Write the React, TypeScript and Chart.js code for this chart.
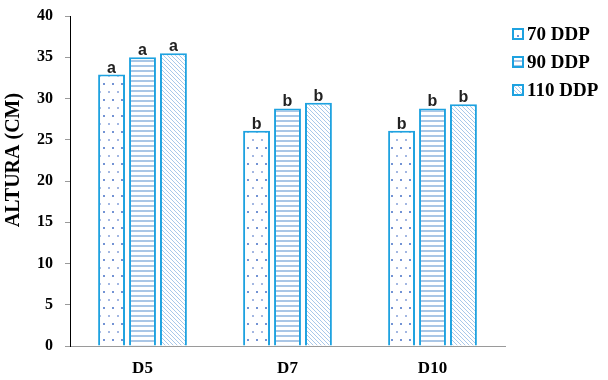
import React, { useEffect, useRef } from "react";
import { Chart, registerables } from "chart.js";

Chart.register(...registerables);

const categories = ["D5", "D7", "D10"];
const seriesNames = ["70 DDP", "90 DDP", "110 DDP"];
const values70 = [32.9, 26.1, 26.1];
const values90 = [35.0, 28.8, 28.8];
const values110 = [35.5, 29.5, 29.3];
const letters70 = ["a", "b", "b"];
const letters90 = ["a", "b", "b"];
const letters110 = ["a", "b", "b"];
const yTicks = [0, 5, 10, 15, 20, 25, 30, 35, 40];
const yTitle = "ALTURA (CM)";

const BORDER = "#1ea2e0";
const SERIF = "'Liberation Serif', 'Times New Roman', serif";

function makePattern(kind: string): CanvasPattern | string {
  const c = document.createElement("canvas");
  const ctx = c.getContext("2d");
  if (!ctx) return "#fff";
  if (kind === "dots") {
    c.width = 9; c.height = 16;
    ctx.fillStyle = "#ffffff";
    ctx.fillRect(0, 0, 9, 16);
    ctx.fillStyle = "#7393d4";
    ctx.fillRect(4, 3, 2, 2);
    ctx.fillStyle = "#a3b7e2";
    ctx.fillRect(0, 11, 2, 2);
  } else if (kind === "hlines") {
    c.width = 4; c.height = 5;
    ctx.fillStyle = "#ffffff";
    ctx.fillRect(0, 0, 4, 5);
    ctx.fillStyle = "#a9c6e6";
    ctx.fillRect(0, 0, 4, 2);
  } else {
    c.width = 4; c.height = 4;
    ctx.fillStyle = "#ffffff";
    ctx.fillRect(0, 0, 4, 4);
    ctx.fillStyle = "#a8c8ea";
    for (let i = 0; i < 4; i++) ctx.fillRect(i, i, 1, 1);
  }
  const p = ctx.createPattern(c, "repeat");
  return p || "#fff";
}

export default function App() {
  const ref = useRef<HTMLCanvasElement>(null);
  useEffect(() => {
    if (!ref.current) return;
    const patterns = [makePattern("dots"), makePattern("hlines"), makePattern("diag")];
    const letters = [letters70, letters90, letters110];

    const labelPlugin = {
      id: "letters",
      afterDatasetsDraw(chart: any) {
        const ctx = chart.ctx;
        ctx.save();
        ctx.font = "bold 16px 'Liberation Sans', Arial, sans-serif";
        ctx.fillStyle = "#222";
        ctx.textAlign = "center";
        ctx.textBaseline = "alphabetic";
        chart.data.datasets.forEach((ds: any, di: number) => {
          const meta = chart.getDatasetMeta(di);
          meta.data.forEach((bar: any, i: number) => {
            ctx.fillText(letters[di][i], bar.x, bar.y - 2);
          });
        });
        ctx.restore();
      },
    };

    const extrasPlugin = {
      id: "extras",
      afterDraw(chart: any) {
        const ctx = chart.ctx;
        const area = chart.chartArea;
        // small extension of the x-axis line to the left of the y-axis
        ctx.save();
        ctx.strokeStyle = "#9a9a9a";
        ctx.lineWidth = 1;
        ctx.beginPath();
        ctx.moveTo(area.left - 5, Math.round(area.bottom) + 0.5);
        ctx.lineTo(area.left, Math.round(area.bottom) + 0.5);
        ctx.stroke();
        ctx.restore();

        ctx.save();
        ctx.translate(14, 160);
        ctx.rotate(-Math.PI / 2);
        ctx.font = `bold 20px ${SERIF}`;
        ctx.fillStyle = "#000";
        ctx.textAlign = "center";
        ctx.textBaseline = "middle";
        ctx.fillText(yTitle, 0, 0);
        ctx.restore();

        ctx.save();
        ctx.font = `bold 19px ${SERIF}`;
        ctx.textBaseline = "middle";
        ctx.textAlign = "left";
        seriesNames.forEach((name, i) => {
          const y = 34 + i * 28;
          const bx = 513;
          ctx.fillStyle = patterns[i] as any;
          ctx.fillRect(bx, y - 5, 10, 10);
          ctx.strokeStyle = BORDER;
          ctx.lineWidth = 2;
          ctx.strokeRect(bx, y - 5, 10, 10);
          ctx.fillStyle = "#000";
          ctx.fillText(name, bx + 14, y + 1);
        });
        ctx.restore();
      },
    };

    const chart = new Chart(ref.current, {
      type: "bar",
      data: {
        labels: categories,
        datasets: [values70, values90, values110].map((v, i) => ({
          label: seriesNames[i],
          data: v,
          backgroundColor: patterns[i] as any,
          borderColor: BORDER,
          borderWidth: 2,
          borderSkipped: "bottom",
          categoryPercentage: 0.64,
          barPercentage: 0.87,
        })),
      },
      options: {
        animation: false,
        responsive: false,
        maintainAspectRatio: false,
        layout: { padding: { left: 0, right: 103, top: 16, bottom: 0 } },
        plugins: {
          legend: { display: false },
          tooltip: { enabled: false },
        },
        scales: {
          x: {
            grid: { display: false, drawTicks: false },
            border: { display: true, color: "#9a9a9a", width: 1 },
            ticks: {
              color: "#000",
              padding: 12,
              font: { family: SERIF, size: 17, weight: "bold" },
            },
            afterFit: (s: any) => { s.height = 34; s.paddingLeft = 0; s.paddingRight = 0; },
          },
          y: {
            min: 0,
            max: 40,
            afterBuildTicks: (s: any) => { s.ticks = yTicks.map((v) => ({ value: v })); },
            grid: { display: true, drawOnChartArea: false, drawTicks: true, tickLength: 5, color: "#9a9a9a" },
            border: { display: true, color: "#000", width: 1 },
            ticks: {
              color: "#000",
              padding: 12,
              font: { family: SERIF, size: 16, weight: "bold" },
            },
            title: { display: false },
            afterFit: (s: any) => { s.width = 70; s.paddingTop = 0; s.paddingBottom = 0; },
          },
        },
      },
      plugins: [labelPlugin, extrasPlugin],
    });
    return () => chart.destroy();
  }, []);

  return (
    <div style={{ position: "fixed", left: 0, top: 0, width: 608, height: 380, background: "#fff" }}>
      <canvas ref={ref} width={608} height={380} style={{ width: 608, height: 380 }} />
    </div>
  );
}
